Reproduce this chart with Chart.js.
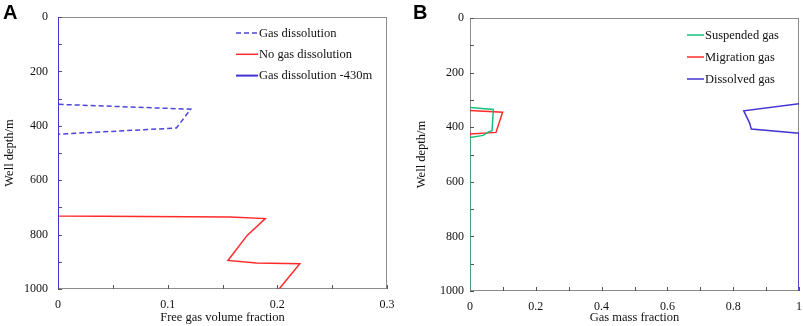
<!DOCTYPE html>
<html>
<head>
<meta charset="utf-8">
<script src="https://cdn.jsdelivr.net/npm/chart.js@4.4.1/dist/chart.umd.min.js"></script>
<style>
  html, body { margin: 0; padding: 0; background: #fff; }
  #wrap { position: relative; width: 803px; height: 326px; }
  canvas { position: absolute; top: 0; }
</style>
</head>
<body>
<div id="wrap">
  <canvas id="chart-a" width="400" height="326" style="left:0"></canvas>
  <canvas id="chart-b" width="403" height="326" style="left:400px"></canvas>
</div>
<script>
// tick labels
const depthTicks = [0, 200, 400, 600, 800, 1000];
const fracTicksA = [0, 0.1, 0.2, 0.3];
const fracTicksB = [0, 0.2, 0.4, 0.6, 0.8, 1];

// A - free gas volume fraction (depth in m)
const dissolutionDepth = [0, 321, 339, 408, 431, 1000];
const dissolutionFrac = [0, 0, 0.121, 0.108, 0, 0];

const noDissolutionDepth = [0, 732, 735, 741, 803, 895, 904, 907, 1000];
const noDissolutionFrac = [0, 0, 0.157, 0.189, 0.1725, 0.155, 0.181, 0.2205, 0.2016];

const dissolution430Depth = [0, 1000];
const dissolution430Frac = [0, 0];

// B - gas mass fraction
const suspendedDepth = [328, 335, 413, 418, 430, 438, 1000];
const suspendedFrac = [0, 0.071, 0.067, 0.055, 0.04, 0, 0];

const migrationDepth = [339, 345, 419, 425, 1000];
const migrationFrac = [0, 0.099, 0.079, 0, 0];

const dissolvedDepth = [314, 340, 385, 407, 422, 1000];
const dissolvedFrac = [1, 0.832, 0.85, 0.855, 1, 1];

const serif = '"Liberation Serif", "Times New Roman", serif';

function series(xs, ys) {
  return xs.map((x, i) => ({ x: x, y: ys[i] }));
}

function fmt(v) {
  return String(Number(v.toFixed(2)));
}

// рамка + внутренние засечки (под линиями данных)
const framePlugin = {
  id: "frame",
  beforeDatasetsDraw(chart) {
    const { ctx, chartArea: a, scales } = chart;
    ctx.save();
    ctx.strokeStyle = "#8c8c8c";
    ctx.lineWidth = 1;
    ctx.strokeRect(a.left + 0.5, a.top + 0.5, a.right - a.left - 1, a.bottom - a.top - 1);

    ctx.strokeStyle = "#555";
    ctx.beginPath();
    scales.y.ticks.forEach((t) => {
      const py = Math.round(scales.y.getPixelForValue(t.value)) + 0.5;
      ctx.moveTo(a.left, py);
      ctx.lineTo(a.left + 4, py);
    });
    scales.x.ticks.forEach((t) => {
      const px = Math.round(scales.x.getPixelForValue(t.value)) + 0.5;
      ctx.moveTo(px, a.bottom);
      ctx.lineTo(px, a.bottom - 4);
    });
    ctx.stroke();
    ctx.restore();
  },
};

// легенда внутри графика + буква панели
const innerLegend = {
  id: "innerLegend",
  afterDraw(chart, args, opts) {
    const { ctx } = chart;
    ctx.save();
    ctx.font = "12.5px " + serif;
    ctx.textBaseline = "middle";
    ctx.textAlign = "left";
    chart.data.datasets.forEach((ds, i) => {
      const y = opts.y + i * opts.dy;
      ctx.strokeStyle = ds.borderColor;
      ctx.lineWidth = ds.borderWidth;
      ctx.setLineDash(ds.borderDash || []);
      ctx.beginPath();
      ctx.moveTo(opts.x, y);
      ctx.lineTo(opts.x + opts.len, y);
      ctx.stroke();
      ctx.setLineDash([]);
      ctx.fillStyle = "#111";
      ctx.fillText(ds.label, opts.x + opts.len + 1, y + 0.5);
    });

    ctx.font = 'bold 20px "Liberation Sans", Arial, sans-serif';
    ctx.textBaseline = "alphabetic";
    ctx.fillStyle = "#000";
    ctx.fillText(opts.letter, opts.letterX, 19);
    ctx.restore();
  },
};

function scales(xMax, xStep, xLabels, xTitle, yWidth, yPad, yTitlePad, xHeight) {
  return {
    x: {
      type: "linear",
      min: 0,
      max: xMax,
      grid: { display: false, drawTicks: false },
      border: { display: false },
      ticks: {
        stepSize: xStep,
        autoSkip: false,
        maxRotation: 0,
        padding: 9,
        color: "#111",
        font: { family: serif, size: 12 },
        callback: (v) => (xLabels.some((l) => Math.abs(l - v) < 1e-9) ? fmt(v) : ""),
      },
      title: {
        display: true,
        text: xTitle,
        color: "#111",
        font: { family: serif, size: 12.5 },
        padding: { top: 0, bottom: 1 },
      },
      afterFit: (s) => {
        s.height = xHeight;
        // крайние подписи не должны сжимать область графика
        s.paddingLeft = 0;
        s.paddingRight = 0;
      },
    },
    y: {
      type: "linear",
      reverse: true,
      min: 0,
      max: 1000,
      grid: { display: false, drawTicks: false },
      border: { display: false },
      ticks: {
        stepSize: 100,
        autoSkip: false,
        padding: yPad,
        color: "#111",
        font: { family: serif, size: 12 },
        callback: (v) => (depthTicks.includes(v) ? String(v) : ""),
      },
      title: {
        display: true,
        text: "Well depth/m",
        color: "#111",
        font: { family: serif, size: 12.5 },
        padding: { top: yTitlePad, bottom: 0 },
      },
      afterFit: (s) => {
        s.width = yWidth;
        s.paddingTop = 0;
        s.paddingBottom = 0;
      },
    },
  };
}

const lineDefaults = {
  showLine: true,
  pointRadius: 0,
  pointHoverRadius: 0,
  tension: 0,
  fill: false,
};

new Chart(document.getElementById("chart-a"), {
  type: "scatter",
  data: {
    datasets: [
      {
        ...lineDefaults,
        label: "Gas dissolution",
        data: series(dissolutionFrac, dissolutionDepth),
        borderColor: "#4b45dc",
        borderWidth: 1.5,
        borderDash: [5, 3],
        order: 1,
      },
      {
        ...lineDefaults,
        label: "No gas dissolution",
        data: series(noDissolutionFrac, noDissolutionDepth),
        borderColor: "#ff2b2b",
        borderWidth: 1.5,
        order: 2,
      },
      {
        ...lineDefaults,
        label: "Gas dissolution -430m",
        data: series(dissolution430Frac, dissolution430Depth),
        borderColor: "#4034d2",
        borderWidth: 2,
        order: 0,
      },
    ],
  },
  options: {
    responsive: false,
    animation: false,
    layout: { padding: { left: 0, right: 13, top: 17, bottom: 0 } },
    plugins: {
      legend: { display: false },
      tooltip: { enabled: false },
      innerLegend: { x: 236, y: 33, dy: 21.3, len: 22, letter: "A", letterX: 3 },
    },
    scales: scales(0.3, 0.05, fracTicksA, "Free gas volume fraction", 58, 10, 2, 37),
  },
  plugins: [framePlugin, innerLegend],
});

new Chart(document.getElementById("chart-b"), {
  type: "scatter",
  data: {
    datasets: [
      {
        ...lineDefaults,
        label: "Suspended gas",
        data: series(suspendedFrac, suspendedDepth),
        borderColor: "#14c27c",
        borderWidth: 1.5,
        order: 0,
      },
      {
        ...lineDefaults,
        label: "Migration gas",
        data: series(migrationFrac, migrationDepth),
        borderColor: "#ff2b2b",
        borderWidth: 1.5,
        order: 1,
      },
      {
        ...lineDefaults,
        label: "Dissolved gas",
        data: series(dissolvedFrac, dissolvedDepth),
        borderColor: "#4034d2",
        borderWidth: 1.5,
        order: 2,
      },
    ],
  },
  options: {
    responsive: false,
    animation: false,
    layout: { padding: { left: 0, right: 4, top: 18, bottom: 0 } },
    plugins: {
      legend: { display: false },
      tooltip: { enabled: false },
      innerLegend: { x: 287, y: 35, dy: 22, len: 17, letter: "B", letterX: 13 },
    },
    scales: scales(1, 0.1, fracTicksB, "Gas mass fraction", 70, 6, 14, 35),
  },
  plugins: [framePlugin, innerLegend],
});
</script>
</body>
</html>
